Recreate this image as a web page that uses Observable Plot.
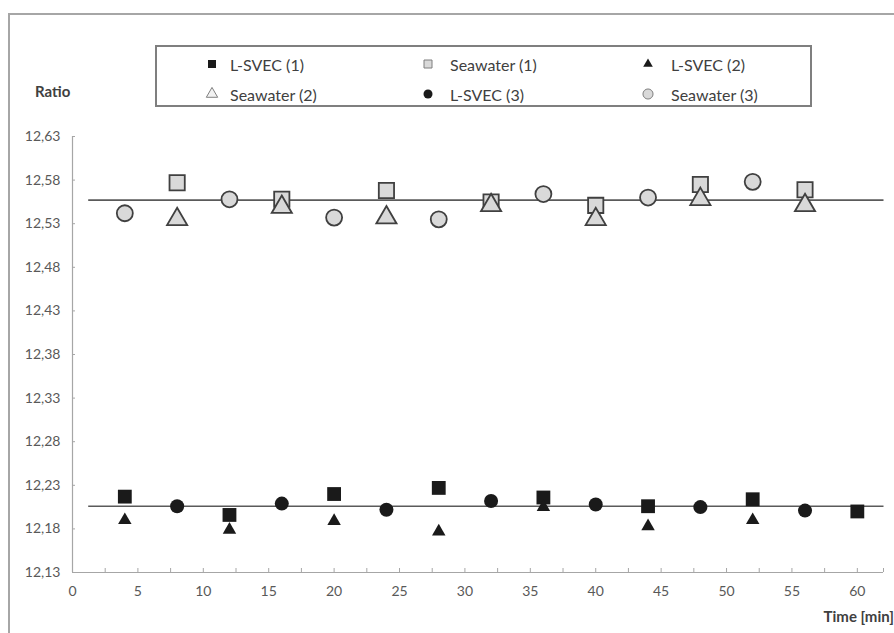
<!DOCTYPE html>
<html>
<head>
<meta charset="utf-8">
<script src="https://cdn.jsdelivr.net/npm/d3@7"></script>
<script src="https://cdn.jsdelivr.net/npm/@observablehq/plot@0.6"></script>
<style>
  html, body { margin: 0; padding: 0; background: #fff; overflow: hidden; }
  #wrap { position: relative; width: 894px; height: 633px; font-family: Lato, "Open Sans", sans-serif; }
  #frame { position: absolute; left: 8px; top: 13px; width: 1000px; height: 800px; border: 2px solid #a6a6a6; box-sizing: border-box; }
  #chart { position: absolute; left: 0; top: 0; }
  #legend { position: absolute; left: 155px; top: 45px; width: 657px; height: 62px; border: 2px solid #7f7f7f; box-sizing: border-box; background: #fff; }
  .item { position: absolute; height: 20px; display: flex; align-items: center; color: #404040; font-size: 16px; white-space: nowrap; }
  .item svg { position: absolute; }
  #ratio { position: absolute; left: 35px; top: 82px; font-weight: bold; font-size: 15px; color: #404040; }
  #timelab { position: absolute; right: 0px; top: 607px; font-weight: bold; font-size: 15px; color: #404040; white-space: nowrap; }
</style>
</head>
<body>
<div id="wrap">
  <div id="frame"></div>
  <div id="chart"></div>
  <div id="legend"></div>
  <div id="ratio">Ratio</div>
  <div id="timelab">Time [min]</div>
</div>
<script>
// ---- data ----
const xLSVEC1 = [4, 12, 20, 28, 36, 44, 52, 60];
const yLSVEC1 = [12.217, 12.196, 12.220, 12.227, 12.216, 12.206, 12.214, 12.200];
const xSea1 = [8, 16, 24, 32, 40, 48, 56];
const ySea1 = [12.577, 12.558, 12.568, 12.555, 12.551, 12.575, 12.569];
const xLSVEC2 = [4, 12, 20, 28, 36, 44, 52];
const yLSVEC2 = [12.190, 12.179, 12.189, 12.177, 12.205, 12.183, 12.190];
const xSea2 = [8, 16, 24, 32, 40, 48, 56];
const ySea2 = [12.535, 12.549, 12.537, 12.551, 12.535, 12.558, 12.551];
const xLSVEC3 = [8, 16, 24, 32, 40, 48, 56];
const yLSVEC3 = [12.206, 12.209, 12.202, 12.212, 12.208, 12.205, 12.201];
const xSea3 = [4, 12, 20, 28, 36, 44, 52];
const ySea3 = [12.542, 12.558, 12.537, 12.535, 12.564, 12.560, 12.578];
const refLevels = [12.557, 12.206];
const refStart = 1.2, refEnd = 62;
const xDomain = [0, 62];
const yDomain = [12.13, 12.63];
const xTickLabels = [0, 5, 10, 15, 20, 25, 30, 35, 40, 45, 50, 55, 60];
const xMinorTicks = [0, 2.5, 5, 7.5, 10, 12.5, 15, 17.5, 20, 22.5, 25, 27.5, 30, 32.5, 35, 37.5, 40, 42.5, 45, 47.5, 50, 52.5, 55, 57.5, 60, 62];
const yTicks = [12.13, 12.18, 12.23, 12.28, 12.33, 12.38, 12.43, 12.48, 12.53, 12.58, 12.63];
const seriesNames = ["L-SVEC (1)", "Seawater (1)", "L-SVEC (2)", "Seawater (2)", "L-SVEC (3)", "Seawater (3)"];

const pts = (xs, ys) => xs.map((x, i) => ({x, y: ys[i]}));
const dark = "#1a1a1a", light = "#d9d9d9", edge = "#404040";

const W = 894, H = 633, mL = 72, mR = 11, mT = 136, mB = 61;

const chart = Plot.plot({
  width: W, height: H,
  marginLeft: mL, marginRight: mR, marginTop: mT, marginBottom: mB,
  style: {fontFamily: "Lato, 'Open Sans', sans-serif", fontSize: "14px", color: "#595959", background: "transparent"},
  x: {domain: xDomain, axis: null},
  y: {domain: yDomain, axis: null},
  marks: [
    // axes lines and ticks
    Plot.ruleX([xDomain[0]], {stroke: "#a6a6a6", strokeWidth: 1.2}),
    Plot.ruleY([yDomain[0]], {stroke: "#a6a6a6", strokeWidth: 1.2}),
    Plot.tickX(xMinorTicks, {x: d => d, stroke: "#a6a6a6", insetTop: H - mT - mB - 4}),
    Plot.tickY(yTicks, {y: d => d, stroke: "#a6a6a6", insetRight: W - mL - mR - 3}),
    Plot.axisX({ticks: xTickLabels, tickSize: 0, tickPadding: 14, tickFormat: d => String(d), fill: "#595959", label: null}),
    Plot.axisY({ticks: yTicks, tickSize: 0, tickPadding: 12, tickFormat: d => d.toFixed(2).replace(".", ","), fill: "#595959", label: null}),
    // reference lines
    Plot.link(refLevels, {x1: () => refStart, x2: () => refEnd, y1: d => d, y2: d => d, stroke: "#5a5a5a", strokeWidth: 1.6}),
    // series (drawn in legend order)
    Plot.dot(pts(xLSVEC1, yLSVEC1), {x: "x", y: "y", symbol: "square", r: 7.8, fill: dark, stroke: "none"}),
    Plot.dot(pts(xSea1, ySea1), {x: "x", y: "y", symbol: "square", r: 8.6, fill: light, stroke: edge, strokeWidth: 1.8}),
    Plot.dot(pts(xLSVEC2, yLSVEC2), {x: "x", y: "y", symbol: "triangle", r: 5, fill: dark, stroke: "none"}),
    Plot.dot(pts(xSea2, ySea2), {x: "x", y: "y", symbol: "triangle", r: 7.5, fill: light, stroke: edge, strokeWidth: 1.8}),
    Plot.dot(pts(xLSVEC3, yLSVEC3), {x: "x", y: "y", symbol: "circle", r: 7, fill: dark, stroke: "none"}),
    Plot.dot(pts(xSea3, ySea3), {x: "x", y: "y", symbol: "circle", r: 8, fill: light, stroke: edge, strokeWidth: 1.8})
  ]
});
document.getElementById("chart").appendChild(chart);

// ---- legend ----
const legendSymbols = [
  {sym: d3.symbolSquare, size: 64, fill: dark, stroke: "none"},
  {sym: d3.symbolSquare, size: 64, fill: light, stroke: "#7f7f7f"},
  {sym: d3.symbolTriangle, size: 40, fill: dark, stroke: "none"},
  {sym: d3.symbolTriangle, size: 56, fill: "#f2f2f2", stroke: "#7f7f7f"},
  {sym: d3.symbolCircle, size: 64, fill: dark, stroke: "none"},
  {sym: d3.symbolCircle, size: 80, fill: light, stroke: "#7f7f7f"}
];
const colMarker = [55, 271, 491];
const colText = [73, 293, 514];
const rowY = [7, 37];
const legend = d3.select("#legend");
seriesNames.forEach((name, i) => {
  const col = i % 3, row = Math.floor(i / 3);
  const s = legendSymbols[i];
  const item = legend.append("div").attr("class", "item")
    .style("left", (colMarker[col] - 8) + "px").style("top", rowY[row] + "px");
  const svg = item.append("svg").attr("width", 16).attr("height", 20).style("left", "0px").style("top", "0px");
  svg.append("path").attr("transform", "translate(8,10)")
    .attr("d", d3.symbol(s.sym, s.size)())
    .attr("fill", s.fill).attr("stroke", s.stroke).attr("stroke-width", 1);
  legend.append("div").attr("class", "item")
    .style("left", colText[col] + "px").style("top", rowY[row] + "px")
    .text(name);
});
</script>
</body>
</html>
